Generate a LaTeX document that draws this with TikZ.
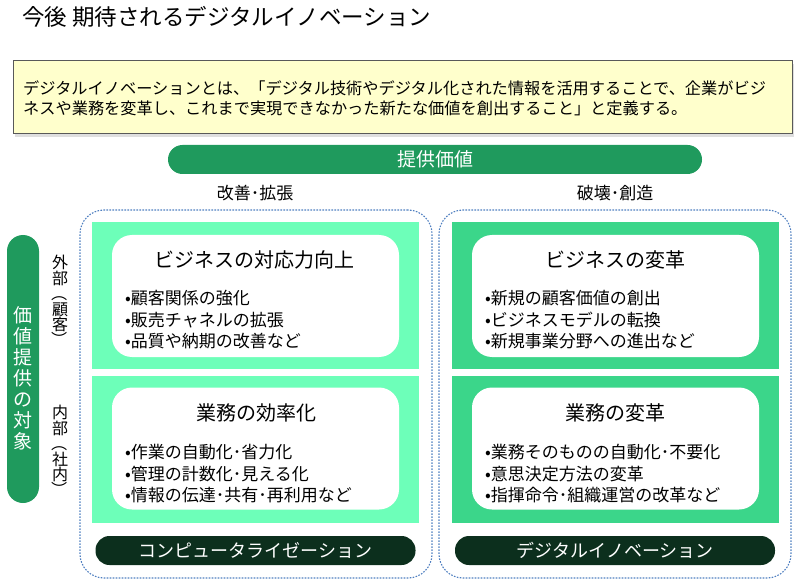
\documentclass[tikz,border=0pt]{standalone}
\usepackage{fontspec}
\setmainfont{Noto Sans CJK JP}
\usepackage{xcolor}
\usepackage{graphicx}
\usetikzlibrary{shadows}

\definecolor{bargreen}{HTML}{1F9A5D}
\definecolor{lightpanel}{HTML}{6DFFB9}
\definecolor{midpanel}{HTML}{3BD68A}
\definecolor{darkbar}{HTML}{0C2F1D}
\definecolor{dotblue}{HTML}{4F7FC0}
\definecolor{notecream}{HTML}{FFFFCC}

\newcommand{\vopen}{\rotatebox[origin=c]{-90}{（}}
\newcommand{\vclose}{\rotatebox[origin=c]{-90}{）}}

\begin{document}
\begin{tikzpicture}[x=1pt,y=-1pt,
  groupbox/.style={draw=dotblue, dash pattern=on 1.6pt off 1.4pt, line width=1.1pt, rounded corners=24pt,
    minimum width=352pt, minimum height=368pt},
  quad/.style={minimum width=327pt, minimum height=147pt},
  card/.style={fill=white, rounded corners=20pt, minimum width=287pt, minimum height=122pt},
  heading/.style={font=\fontsize{20}{24}\selectfont},
  items/.style={anchor=west, align=left, inner sep=0pt, font=\fontsize{17}{21.5}\selectfont},
  tagbar/.style={fill=darkbar, rounded corners=14pt, minimum width=320pt, minimum height=29pt,
    text=white, font=\fontsize{18}{22}\selectfont},
  axis label/.style={font=\fontsize{17}{21}\selectfont},
  side label/.style={align=center, inner sep=0pt, font=\fontsize{16}{15.5}\selectfont}]
  \useasboundingbox (0,0) rectangle (800,585);

  % Title
  \node[anchor=west, inner sep=0pt, font=\fontsize{22.5}{26}\selectfont] (title) at (22,17)
    {今後 期待されるデジタルイノベーション};

  % Definition note
  \node[draw=black!65, line width=1pt, fill=notecream, minimum width=779pt, minimum height=73pt,
    drop shadow={opacity=0.25, shadow xshift=2pt, shadow yshift=-3pt}] (note) at (402.5,97.5) {};
  \node[anchor=west, align=left, inner sep=0pt, font=\fontsize{16.2}{20}\selectfont] (notetext) at (23,98)
    {デジタルイノベーションとは、「デジタル技術やデジタル化された情報を活用することで、企業がビジ\\
     ネスや業務を変革し、これまで実現できなかった新たな価値を創出すること」と定義する。};

  % Value axis
  \node[fill=bargreen, rounded corners=14.5pt, minimum width=534pt, minimum height=29pt,
    text=white, font=\fontsize{19}{22}\selectfont] (value) at (435,159.5) {提供価値};
  \node[axis label] (improve) at (255,193) {改善･拡張};
  \node[axis label] (disrupt) at (615,193) {破壊･創造};

  % Target axis
  \node[fill=bargreen, rounded corners=16pt, minimum width=32pt, minimum height=268pt] (target) at (23,369) {};
  \node[align=center, inner sep=0pt, text=white, font=\fontsize{19}{21}\selectfont] (targettext) at (23,378)
    {価\\値\\提\\供\\の\\対\\象};
  \node[side label] (outside) at (60,301.5) {外\\部\\\vopen\\顧\\客\\\vclose};
  \node[side label] (inside) at (60,451.5) {内\\部\\\vopen\\社\\内\\\vclose};

  % Dotted groups
  \node[groupbox] (leftgroup) at (256,394) {};
  \node[groupbox] (rightgroup) at (615,394) {};

  % Quadrants
  \node[quad, fill=lightpanel] (q11) at (255.5,295.5) {};
  \node[quad, fill=lightpanel] (q21) at (255.5,449) {};
  \node[quad, fill=midpanel] (q12) at (615.5,295.5) {};
  \node[quad, fill=midpanel] (q22) at (615.5,449) {};

  \node[card] (c11) at (255.5,296) {};
  \node[card] (c21) at (255.5,448.5) {};
  \node[card] (c12) at (615.5,296) {};
  \node[card] (c22) at (615.5,448.5) {};

  % Business responsiveness
  \node[heading] (h11) at (254,260) {ビジネスの対応力向上};
  \node[items] (b11) at (125,320) {•顧客関係の強化\\•販売チャネルの拡張\\•品質や納期の改善など};

  % Operational efficiency
  \node[heading] (h21) at (256,413) {業務の効率化};
  \node[items] (b21) at (125,474) {•作業の自動化･省力化\\•管理の計数化･見える化\\•情報の伝達･共有･再利用など};

  % Business transformation
  \node[heading] (h12) at (615,260) {ビジネスの変革};
  \node[items] (b12) at (485,320) {•新規の顧客価値の創出\\•ビジネスモデルの転換\\•新規事業分野への進出など};

  % Operational transformation
  \node[heading] (h22) at (615,413) {業務の変革};
  \node[items] (b22) at (485,474) {•業務そのものの自動化･不要化\\•意思決定方法の変革\\•指揮命令･組織運営の改革など};

  % Bottom tags
  \node[tagbar] (computerize) at (255.5,550.5) {コンピュータライゼーション};
  \node[tagbar] (innovation) at (615,550.5) {デジタルイノベーション};
\end{tikzpicture}
\end{document}
